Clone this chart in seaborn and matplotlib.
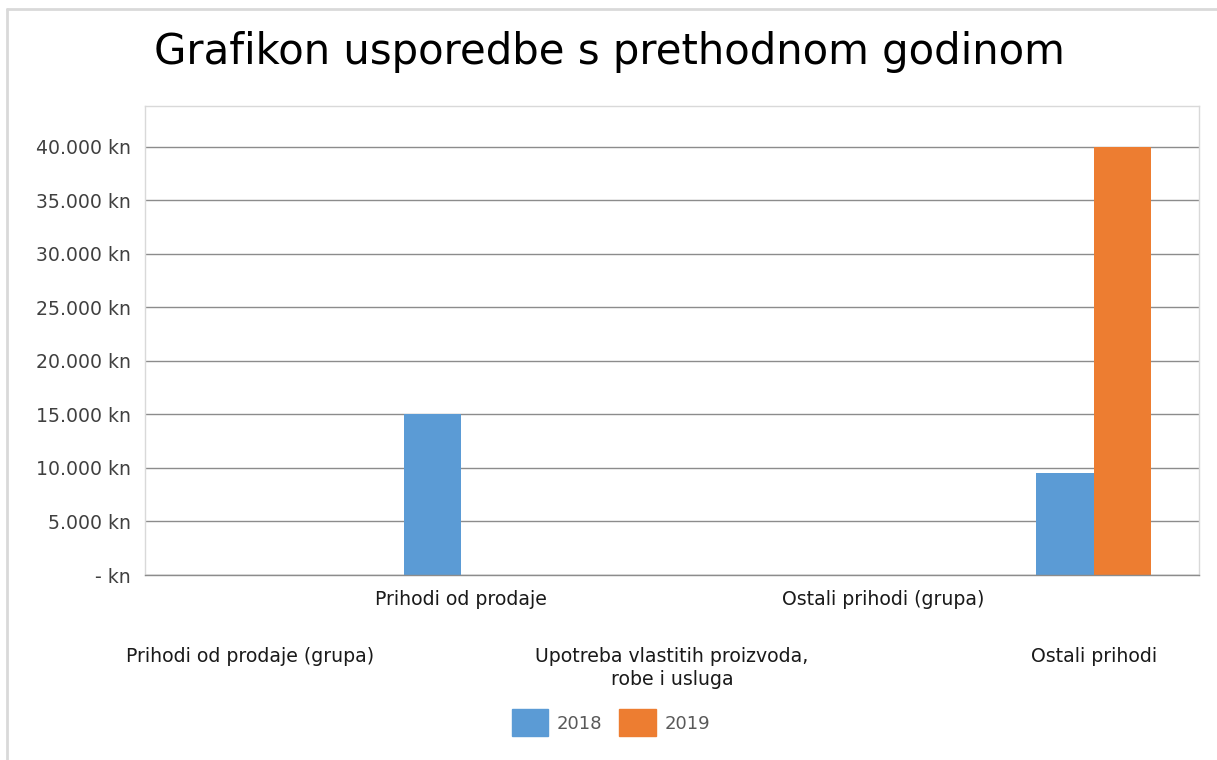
import numpy as np
import pandas as pd
import matplotlib.pyplot as plt
import seaborn as sns
from matplotlib.ticker import FuncFormatter
from matplotlib.lines import Line2D

# podaci s grafikona
kategorije = ["Prihodi od prodaje (grupa)", "Prihodi od prodaje",
              "Upotreba vlastitih proizvoda,\nrobe i usluga",
              "Ostali prihodi (grupa)", "Ostali prihodi"]
godine = ["2018", "2019"]
iznos_2018 = [0, 15000, 0, 0, 9500]
iznos_2019 = [0, 0, 0, 0, 40000]
boje = ["#5B9BD5", "#ED7D31"]

df = pd.DataFrame({
    "kategorija": kategorije * 2,
    "godina": [godine[0]] * 5 + [godine[1]] * 5,
    "iznos": iznos_2018 + iznos_2019,
})

sns.set_style("white")
plt.rcParams['font.family'] = ['DejaVu Sans']

fig = plt.figure(figsize=(12.17, 7.60), dpi=100)
ax = fig.add_axes([0.1191, 0.2434, 0.9852 - 0.1191, 0.8605 - 0.2434])

sns.barplot(data=df, x="kategorija", y="iznos", hue="godina", order=kategorije,
            hue_order=godine, palette=boje, width=0.542, saturation=1,
            linewidth=0, ax=ax, legend=False)

ax.set_ylim(0, 43800)
ax.set_yticks(np.arange(0, 40001, 5000))
ax.yaxis.set_major_formatter(FuncFormatter(
    lambda v, p: "- kn" if v == 0 else f"{int(v):,} kn".replace(",", ".")))
ax.grid(axis="y", color="#8c8c8c", linewidth=1)
ax.set_axisbelow(True)
for s in ["top", "right", "left"]:
    ax.spines[s].set_color("#d9d9d9")
    ax.spines[s].set_linewidth(1)
ax.spines["bottom"].set_color("#8c8c8c")
ax.spines["bottom"].set_linewidth(1)
ax.tick_params(axis="y", length=0, labelsize=13.6, labelcolor="#404040", pad=10)
ax.tick_params(axis="x", length=0)
ax.set_xlabel("")
ax.set_ylabel("")

# oznake kategorija u dva reda
ax.set_xticklabels([])
for i, k in enumerate(kategorije):
    y_off = -0.032 if i % 2 == 1 else -0.153
    ax.text(i, y_off, k, transform=ax.get_xaxis_transform(), ha="center", va="top",
            fontsize=13.6, color="#1a1a1a", linespacing=1.25)

fig.text(0.501, 0.932, "Grafikon usporedbe s prethodnom godinom", ha="center", va="center",
         fontsize=30.2, color="black")

# legenda
rucke = [plt.Rectangle((0, 0), 1, 1, color=b) for b in boje]
fig.legend(rucke, godine, loc="center", bbox_to_anchor=(0.502, 0.049), ncol=2, frameon=False,
           fontsize=13, labelcolor="#595959", handlelength=2.0, handleheight=1.9,
           columnspacing=0.95, handletextpad=0.5)

# okvir slike
fig.add_artist(Line2D([7 / 1217, 7 / 1217], [0, 1 - 9 / 760], transform=fig.transFigure,
                      color="#d9d9d9", linewidth=2))
fig.add_artist(Line2D([7 / 1217, 1], [1 - 9 / 760, 1 - 9 / 760], transform=fig.transFigure,
                      color="#d9d9d9", linewidth=2))

fig.savefig("out.png", dpi=100)
